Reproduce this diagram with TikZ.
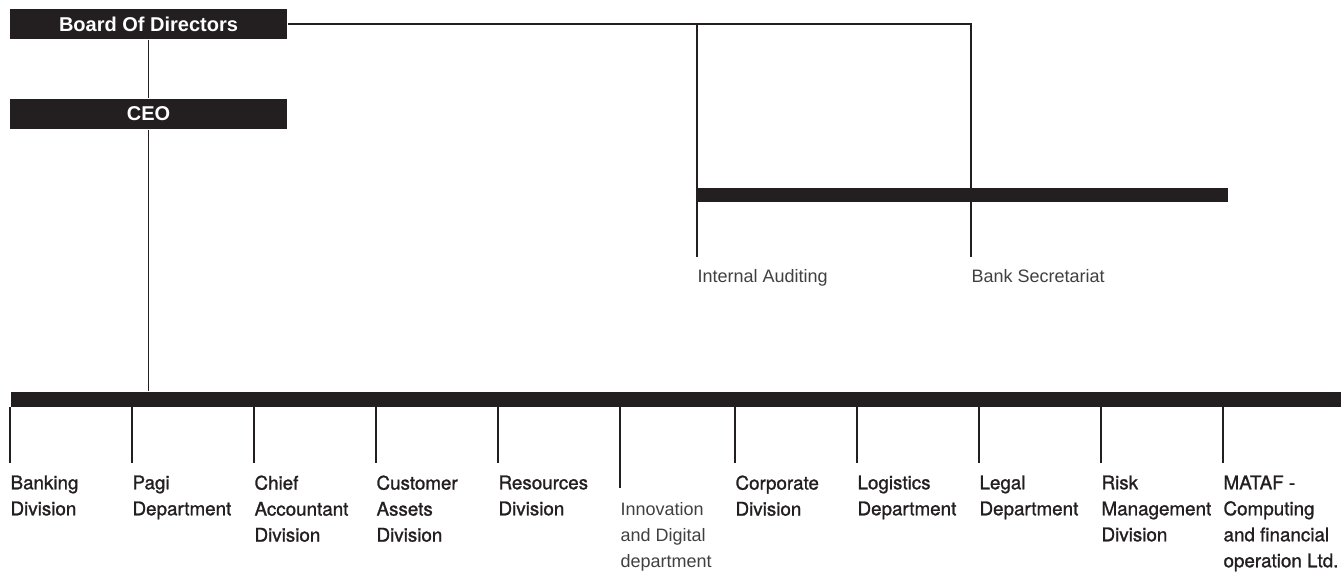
\documentclass[tikz,border=0pt]{standalone}
\usepackage{fontspec}
\setmainfont{Liberation Sans}
\newfontfamily\medfont[FakeBold=1.2]{TeX Gyre Heros}
\usetikzlibrary{positioning}
\definecolor{ink}{HTML}{231F20}

\begin{document}
\begin{tikzpicture}[x=1pt,y=-1pt,line width=1.1pt,draw=ink]
  \tikzstyle{head}=[fill=ink,text=white,inner sep=0pt,minimum width=277pt,minimum height=30pt,font=\fontsize{20}{22}\selectfont\bfseries]
  \tikzstyle{bar}=[fill=ink,inner sep=0pt,anchor=north west]
  \tikzstyle{unit}=[inner sep=0pt,anchor=north west,align=left,text=ink,font=\medfont\fontsize{18.8}{26}\selectfont]
  \tikzstyle{thin}=[inner sep=0pt,anchor=north west,align=left,text=black!75,font=\fontsize{18}{26}\selectfont]

  \useasboundingbox (0,0) rectangle (1341,571);

  \node[head] (board) at (148.5,24) {Board Of Directors};
  \node[head] (ceo)   at (148.5,114) {CEO};

  \node[bar,minimum width=530pt,minimum height=14pt]  (topbar)  at (697,187) {};
  \node[bar,minimum width=1331pt,minimum height=15pt] (mainbar) at (10,391) {};

  \node[thin] (audit) at (697,269) {Internal Auditing};
  \node[thin] (secr)  at (971,269) {Bank Secretariat};

  \node[unit] (bank)  at (10,475)   {Banking\\Division};
  \node[unit] (pagi)  at (132,475)  {Pagi\\Department};
  \node[unit] (chief) at (254,475)  {Chief\\Accountant\\Division};
  \node[unit] (cust)  at (376,475)  {Customer\\Assets\\Division};
  \node[unit] (res)   at (498,475)  {Resources\\Division};
  \node[thin] (innov) at (620,502)  {Innovation\\and Digital\\department};
  \node[unit] (corp)  at (735,475)  {Corporate\\Division};
  \node[unit] (logi)  at (857,475)  {Logistics\\Department};
  \node[unit] (legal) at (979,475)  {Legal\\Department};
  \node[unit] (risk)  at (1101,475) {Risk\\Management\\Division};
  \node[unit] (mataf) at (1223,475) {MATAF -\\Computing\\and financial\\operation Ltd.};

  % chain of command
  \draw (board.south) -- (ceo.north);
  \draw (ceo.south) -- (mainbar.north -| ceo.south);
  \draw (board.east) -| ([yshift=12pt]secr.north west);
  \draw (board.east -| audit.west) -- ([yshift=12pt]audit.north west);

  % drops from the main bar
  \draw (mainbar.south -| bank.west)  -- ([yshift=12pt]bank.north west);
  \draw (mainbar.south -| pagi.west)  -- ([yshift=12pt]pagi.north west);
  \draw (mainbar.south -| chief.west) -- ([yshift=12pt]chief.north west);
  \draw (mainbar.south -| cust.west)  -- ([yshift=12pt]cust.north west);
  \draw (mainbar.south -| res.west)   -- ([yshift=12pt]res.north west);
  \draw (mainbar.south -| innov.west) -- ([yshift=14pt]innov.north west);
  \draw (mainbar.south -| corp.west)  -- ([yshift=12pt]corp.north west);
  \draw (mainbar.south -| logi.west)  -- ([yshift=12pt]logi.north west);
  \draw (mainbar.south -| legal.west) -- ([yshift=12pt]legal.north west);
  \draw (mainbar.south -| risk.west)  -- ([yshift=12pt]risk.north west);
  \draw (mainbar.south -| mataf.west) -- ([yshift=12pt]mataf.north west);
\end{tikzpicture}
\end{document}
